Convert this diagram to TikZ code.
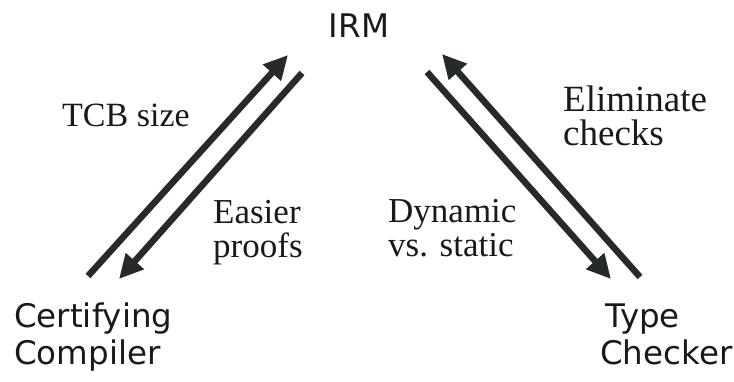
\documentclass[tikz,border=0pt]{standalone}
\usepackage{fontspec}
\setmainfont{Liberation Serif}
\newfontfamily\diagsans{DejaVu Sans}
\usetikzlibrary{arrows.meta}
\definecolor{arrowgray}{HTML}{262A2A}
\tikzset{
  x=1pt, y=-1pt,
  sanslbl/.style={inner sep=0pt, anchor=base west, font=\diagsans\fontsize{32.5}{36}\selectfont, text=black!90},
  seriflbl/.style={inner sep=0pt, anchor=base west, font=\fontsize{35}{36}\selectfont, text=black!90},
  bigarrow/.style={draw=arrowgray, line width=6.5pt, -{Triangle[length=24pt,width=23pt]}}
}
\begin{document}
\begin{tikzpicture}
\useasboundingbox (0,0) rectangle (734,382);
% main labels
\node[sanslbl, anchor=base] (irm) at (359,38) {IRM};
\node[sanslbl] (cc1) at (14,327) {Certifying};
\node[sanslbl] (cc2) at (14,364) {Compiler};
\node[sanslbl] (tc1) at (605,327) {Type};
\node[sanslbl] (tc2) at (600,364) {Checker};
% edge labels
\node[seriflbl, font=\fontsize{34}{36}\selectfont] (tcb) at (62,127) {TCB size};
\node[seriflbl] (eas1) at (213,224) {Easier};
\node[seriflbl] (eas2) at (213,258) {proofs};
\node[seriflbl] (dyn1) at (388,223) {Dynamic};
\node[seriflbl] (dyn2) at (388,257) {vs. static};
\node[seriflbl, font=\fontsize{37}{36}\selectfont] (eli1) at (563,112) {Eliminate};
\node[seriflbl, font=\fontsize{37}{36}\selectfont] (eli2) at (563,146) {checks};
% arrow end points
\coordinate (lupS) at (88,276);
\coordinate (lupE) at (288,55);
\coordinate (ldnS) at (302,73);
\coordinate (ldnE) at (119,279);
\coordinate (rdnS) at (427,72);
\coordinate (rdnE) at (611,279);
\coordinate (rupS) at (640,277);
\coordinate (rupE) at (442,54);
% arrows
\draw[bigarrow] (lupS) -- (lupE);
\draw[bigarrow] (ldnS) -- (ldnE);
\draw[bigarrow] (rdnS) -- (rdnE);
\draw[bigarrow] (rupS) -- (rupE);
\end{tikzpicture}
\end{document}
